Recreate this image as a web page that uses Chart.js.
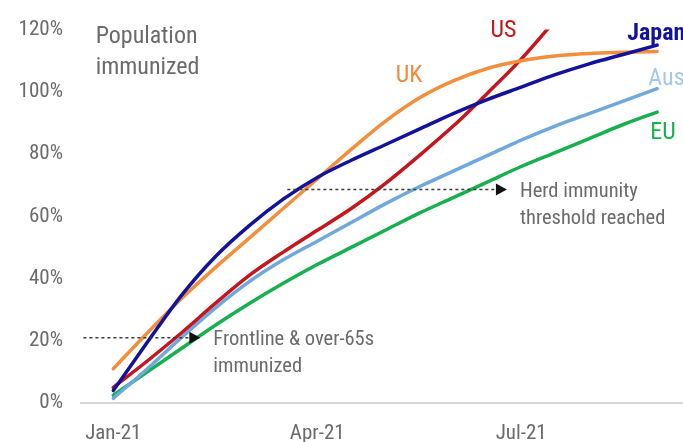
<!DOCTYPE html>
<html>
<head>
<meta charset="utf-8">
<script src="https://cdn.jsdelivr.net/npm/chart.js@4/dist/chart.umd.min.js"></script>
<style>
  html, body { margin: 0; padding: 0; background: #fff; }
  #wrap { width: 683px; height: 442px; }
</style>
</head>
<body>
<div id="wrap"><canvas id="c" width="683" height="442"></canvas></div>
<script>
// Months since Jan-21 (half-month steps)
const months = [0, 0.5, 1, 1.5, 2, 2.5, 3, 3.5, 4, 4.5, 5, 5.5, 6, 6.5, 7, 7.5, 8];

// Share of population immunized (%)
const japan = [4, 19.5, 34.5, 47, 57, 65.5, 72.5, 78, 83, 88, 93, 97.5, 101.5, 105.5, 109, 112, 115];
const uk    = [11, 22.5, 33.5, 43.5, 53, 62.5, 72, 81.5, 90.5, 98, 103.5, 107.5, 110, 111.5, 112.3, 112.7, 113];
const us    = [5, 13.5, 22.5, 32, 41, 48.5, 55.5, 62.5, 70.5, 79.5, 89, 99.5, 110.5, 123, null, null, null];
const aus   = [1.5, 11, 21, 30.5, 39, 46, 52, 58, 64, 69.5, 74.5, 79.5, 84.5, 89, 93, 97, 101];
const eu    = [2.5, 10, 17.5, 25, 32, 38.5, 44.5, 50, 55.5, 61, 66, 71, 76, 80.5, 85, 89.5, 93.5];

const tickMonths = [0, 3, 6];
const tickLabels = ['Jan-21', 'Apr-21', 'Jul-21'];

const FONT = "'Liberation Sans Narrow', 'Roboto Condensed', 'DejaVu Sans Condensed', Roboto, sans-serif";
const GREY = '#6b6b6b';

const series = [
  { name: 'Japan', values: japan, color: '#12129c' },
  { name: 'UK',    values: uk,    color: '#f28e3c' },
  { name: 'US',    values: us,    color: '#c4161c' },
  { name: 'Aus',   values: aus,   color: '#6fa8dc' },
  { name: 'EU',    values: eu,    color: '#18b04e' }
];

function toPoints(vals) {
  return months.map((m, i) => ({ x: m, y: vals[i] })).filter(p => p.y !== null);
}

// Dashed pointer arrows with their captions
const arrows = [
  { from: 2.56, to: 5.79, level: 68.6, lines: ['Herd immunity', 'threshold reached'] },
  { from: -0.44, to: 1.28, level: 21, lines: ['Frontline & over-65s', 'immunized'] }
];

// Series name tags
const tags = [
  { text: 'US',    x: 5.74, y: 119.5, color: '#c4161c', align: 'center', weight: 'normal' },
  { text: 'UK',    x: 4.35, y: 105,   color: '#f08a3e', align: 'center', weight: 'normal' },
  { text: 'Japan', x: 7.56, y: 118.5, color: '#12129c', align: 'left',   weight: 'bold' },
  { text: 'Aus',   x: 7.87, y: 104,   color: '#a6c8ea', align: 'left',   weight: 'normal' },
  { text: 'EU',    x: 7.9,  y: 86.7,  color: '#18b04e', align: 'left',   weight: 'normal' }
];

const annotations = {
  id: 'annotations',
  afterDatasetsDraw(chart) {
    const { ctx, scales: { x, y } } = chart;
    ctx.save();
    // axis title inside the plot
    ctx.font = '24px ' + FONT;
    ctx.fillStyle = GREY;
    ctx.textAlign = 'left';
    ctx.textBaseline = 'middle';
    ctx.fillText('Population', x.getPixelForValue(-0.26), y.getPixelForValue(117.5));
    ctx.fillText('immunized', x.getPixelForValue(-0.26), y.getPixelForValue(107.6));

    arrows.forEach(a => {
      const x0 = x.getPixelForValue(a.from);
      const x1 = x.getPixelForValue(a.to);
      const yy = y.getPixelForValue(a.level);
      ctx.setLineDash([3, 3]);
      ctx.strokeStyle = '#3a3a3a';
      ctx.lineWidth = 1.5;
      ctx.beginPath();
      ctx.moveTo(x0, yy);
      ctx.lineTo(x1 - 9, yy);
      ctx.stroke();
      ctx.setLineDash([]);
      ctx.fillStyle = '#111';
      ctx.beginPath();
      ctx.moveTo(x1, yy);
      ctx.lineTo(x1 - 11, yy - 6);
      ctx.lineTo(x1 - 11, yy + 6);
      ctx.closePath();
      ctx.fill();
      ctx.font = '20.5px ' + FONT;
      ctx.fillStyle = GREY;
      ctx.textAlign = 'left';
      ctx.textBaseline = 'middle';
      a.lines.forEach((t, i) => ctx.fillText(t, x1 + 13, yy + 2 + i * 27));
    });

    tags.forEach(t => {
      ctx.font = t.weight + ' 24px ' + FONT;
      ctx.fillStyle = t.color;
      ctx.textAlign = t.align;
      ctx.textBaseline = 'middle';
      ctx.fillText(t.text, x.getPixelForValue(t.x), y.getPixelForValue(t.y));
    });
    ctx.restore();
  }
};

new Chart(document.getElementById('c'), {
  type: 'line',
  data: {
    datasets: series.map(s => ({
      label: s.name,
      data: toPoints(s.values),
      borderColor: s.color,
      backgroundColor: s.color,
      borderWidth: 3.5,
      borderCapStyle: 'round',
      pointRadius: 0,
      cubicInterpolationMode: 'monotone',
      fill: false
    }))
  },
  options: {
    responsive: false,
    animation: false,
    layout: { padding: { top: 25, right: 0, bottom: 0, left: 0 } },
    plugins: { legend: { display: false }, tooltip: { enabled: false } },
    scales: {
      x: {
        type: 'linear',
        min: -0.49,
        max: 8.38,
        afterBuildTicks: scale => { scale.ticks = tickMonths.map(v => ({ value: v })); },
        afterFit: scale => { scale.height = 39; },
        grid: { display: false, drawTicks: false },
        border: { display: false },
        ticks: {
          autoSkip: false,
          maxRotation: 0,
          padding: 18,
          color: GREY,
          font: { family: FONT, size: 21 },
          callback: v => tickLabels[tickMonths.indexOf(v)]
        }
      },
      y: {
        min: 0,
        max: 120,
        afterFit: scale => { scale.width = 80; },
        border: { display: false },
        grid: {
          drawTicks: false,
          lineWidth: 2,
          color: ctx => (ctx.tick && ctx.tick.value === 0 ? '#d6d6d6' : 'rgba(0,0,0,0)')
        },
        ticks: {
          stepSize: 20,
          padding: 17,
          color: GREY,
          font: { family: FONT, size: 21 },
          callback: v => v + '%'
        }
      }
    }
  },
  plugins: [annotations]
});
</script>
</body>
</html>
